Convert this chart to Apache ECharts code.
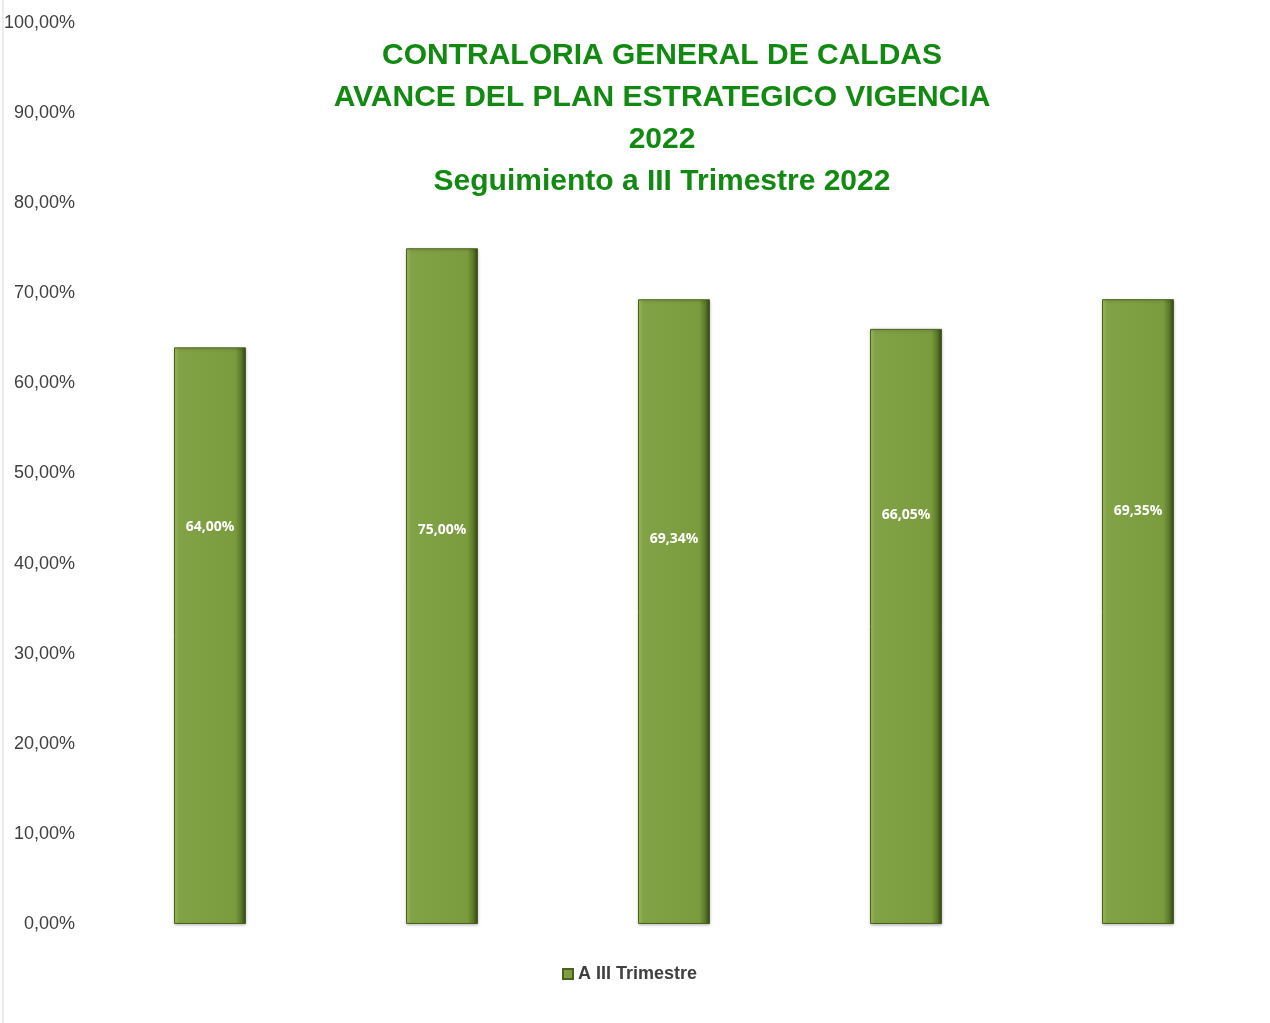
<!DOCTYPE html>
<html lang="es">
<head>
  <meta charset="UTF-8">
  <title>Avance del Plan Estrategico</title>
  <script src="https://cdn.jsdelivr.net/npm/echarts@6/dist/echarts.min.js"></script>
  <style>
    html, body { margin: 0; padding: 0; background: #fff; }
    #chart { width: 1270px; height: 1023px; }
  </style>
</head>
<body>
  <div id="chart"></div>
  <script>
    // datos
    var categories = ['1', '2', '3', '4', '5']
    var values = [64.00, 75.00, 69.34, 66.05, 69.35]
    var yTicks = [0, 10, 20, 30, 40, 50, 60, 70, 80, 90, 100]
    // desplazamiento vertical de cada etiqueta (como en el original de Excel)
    var labelDy = [-109, -56, -73, -111, -101]

    var narrow = '"Liberation Sans Narrow", "Arial Narrow", "Liberation Sans", sans-serif'

    function pct(v) {
      return v.toFixed(2).replace('.', ',') + '%'
    }

    var barFill = new echarts.graphic.LinearGradient(0, 0, 1, 0, [
      { offset: 0, color: '#a3bf6a' },
      { offset: 0.07, color: '#82a246' },
      { offset: 0.85, color: '#7b9b3f' },
      { offset: 0.93, color: '#5c7a2a' },
      { offset: 1, color: '#34461a' }
    ])

    var chart = echarts.init(document.getElementById('chart'))
    var option = {
      backgroundColor: '#fff',
      animation: false,
      title: {
        text: 'CONTRALORIA GENERAL DE CALDAS\nAVANCE DEL PLAN ESTRATEGICO VIGENCIA\n2022\nSeguimiento a III Trimestre 2022',
        left: 657,
        textAlign: 'center',
        top: 30,
        textStyle: {
          color: '#128a12',
          fontFamily: narrow,
          fontWeight: 'bold',
          fontSize: 30,
          lineHeight: 42
        }
      },
      legend: {
        bottom: 35,
        left: 557,
        itemWidth: 10,
        itemHeight: 10,
        itemGap: 4,
        icon: 'rect',
        textStyle: {
          color: '#404040',
          fontFamily: narrow,
          fontWeight: 'bold',
          fontSize: 18
        },
        data: ['A III Trimestre']
      },
      grid: { left: 94, right: 16, top: 23, bottom: 99, outerBoundsMode: 'none' },
      xAxis: {
        type: 'category',
        data: categories,
        axisLine: { show: false },
        axisTick: { show: false },
        axisLabel: { show: false }
      },
      yAxis: {
        type: 'value',
        min: yTicks[0],
        max: yTicks[yTicks.length - 1],
        interval: 10,
        splitLine: { show: false },
        axisLine: { show: false },
        axisTick: { show: false },
        axisLabel: {
          margin: 19,
          color: '#404040',
          fontFamily: narrow,
          fontSize: 18,
          formatter: function (v) { return pct(v) }
        }
      },
      series: [{
        name: 'A III Trimestre',
        type: 'bar',
        barWidth: 72,
        data: values.map(function (v, i) {
          return { value: v, label: { offset: [0, labelDy[i]] } }
        }),
        itemStyle: {
          color: barFill,
          borderColor: '#4a6121',
          borderWidth: 1,
          shadowColor: 'rgba(0,0,0,0.25)',
          shadowBlur: 3,
          shadowOffsetY: 1
        },
        label: {
          show: true,
          position: 'inside',
          color: '#fff',
          fontFamily: '"Open Sans", "DejaVu Sans", sans-serif',
          fontWeight: 'bold',
          fontSize: 14,
          formatter: function (p) { return pct(p.value) }
        }
      }],
      graphic: [{
        type: 'line',
        shape: { x1: 3, y1: 0, x2: 3, y2: 1023 },
        style: { stroke: '#d9d9d9', lineWidth: 1 }
      }]
    }
    chart.setOption(option)
  </script>
</body>
</html>
